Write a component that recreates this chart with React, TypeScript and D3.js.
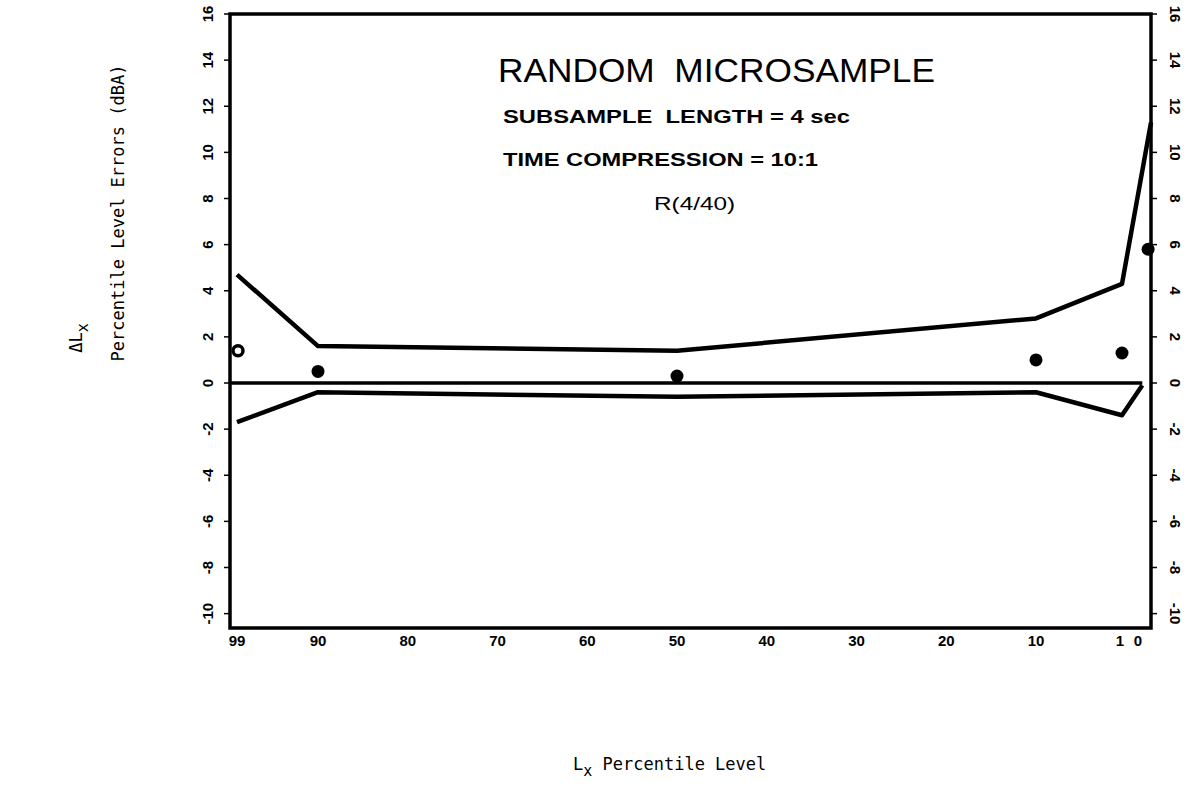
import React from "react";
import * as d3 from "d3";

// percentile levels (x) and error bounds (y, dBA)
const upperX = [99, 90, 50, 10, 1, 0];
const upperY = [4.7, 1.6, 1.4, 2.8, 4.3, 11.3];
const lowerX = [99, 90, 50, 10, 1, 0.3];
const lowerY = [-1.7, -0.4, -0.6, -0.4, -1.4, -0.1];
const pointX = [90, 50, 10, 1, 0.1];
const pointY = [0.5, 0.3, 1.0, 1.3, 5.8];
const ringX = [99];
const ringY = [1.4];
const xTicks = [99, 90, 80, 70, 60, 50, 40, 30, 20, 10, 1, 0];
const yTicks = [16, 14, 12, 10, 8, 6, 4, 2, 0, -2, -4, -6, -8, -10];

const W = 1187;
const H = 811;
const left = 230;
const right = 1151;
const top = 14;
const bottom = 628;

const App = () => {
  // the paper's axis is stretched a little near the 1..0 end
  const x = d3.scaleLinear().domain([99, 90, 10, 1, 0]).range([237, 318, 1036, 1122, right]);
  const y = d3.scaleLinear().domain([16, 0]).range([top, 383]);

  const upperPath = d3.line<number>()
    .x(d => x(upperX[d]))
    .y(d => y(upperY[d]))(d3.range(upperX.length));
  const lowerPath = d3.line<number>()
    .x(d => x(lowerX[d]))
    .y(d => y(lowerY[d]))(d3.range(lowerX.length));

  const tickFont = "'Liberation Sans', Arial, sans-serif";
  const mono = "'DejaVu Sans Mono', monospace";

  // small nudges for the crowded labels at the right end
  const xLabelShift = (t: number) => (t === 1 ? -2 : t === 0 ? -13 : 0);

  return (
    <svg
      width={W}
      height={H}
      style={{ position: "absolute", left: 0, top: 0, background: "#fff" }}
    >
      {/* frame */}
      <rect
        x={left}
        y={top}
        width={right - left}
        height={bottom - top}
        fill="none"
        stroke="#000"
        strokeWidth={3.5}
      />

      {/* left axis ticks + labels */}
      {yTicks.map(t => (
        <g key={"l" + t} transform={`translate(${left},${y(t)})`}>
          <line x1={-6} x2={0} stroke="#000" strokeWidth={1.5} />
          <text
            transform="translate(-23,0) rotate(-90)"
            textAnchor="middle"
            dominantBaseline="central"
            fontFamily={tickFont}
            fontWeight="bold"
            fontSize={15}
          >
            {t}
          </text>
        </g>
      ))}

      {/* right axis ticks + labels */}
      {yTicks.map(t => (
        <g key={"r" + t} transform={`translate(${right},${y(t)})`}>
          <line x1={0} x2={6} stroke="#000" strokeWidth={1.5} />
          <text
            transform="translate(24,0) rotate(90)"
            textAnchor="middle"
            dominantBaseline="central"
            fontFamily={tickFont}
            fontWeight="bold"
            fontSize={15}
          >
            {t}
          </text>
        </g>
      ))}

      {/* bottom labels */}
      {xTicks.map(t => (
        <text
          key={"x" + t}
          x={x(t) + xLabelShift(t)}
          y={646}
          textAnchor="middle"
          fontFamily={tickFont}
          fontWeight="bold"
          fontSize={15}
        >
          {t}
        </text>
      ))}

      {/* zero line */}
      <line x1={left} x2={x(0.3)} y1={y(0)} y2={y(0)} stroke="#000" strokeWidth={3.5} />

      {/* error bounds */}
      <path d={upperPath || ""} fill="none" stroke="#000" strokeWidth={4.5} strokeLinejoin="round" />
      <path d={lowerPath || ""} fill="none" stroke="#000" strokeWidth={4.5} strokeLinejoin="round" />

      {/* measured points */}
      {pointX.map((p, i) => (
        <circle key={"p" + i} cx={x(p)} cy={y(pointY[i])} r={6.5} fill="#000" />
      ))}
      {ringX.map((p, i) => (
        <circle
          key={"o" + i}
          cx={x(p) + 1}
          cy={y(ringY[i])}
          r={5}
          fill="#fff"
          stroke="#000"
          strokeWidth={3.5}
        />
      ))}

      {/* titles */}
      <text
        x={498}
        y={82}
        fontFamily={tickFont}
        fontSize={34}
        textLength={437}
        lengthAdjust="spacingAndGlyphs"
        xmlSpace="preserve"
      >
        RANDOM  MICROSAMPLE
      </text>
      <text
        x={503}
        y={123}
        fontFamily={tickFont}
        fontWeight="bold"
        fontSize={19}
        textLength={347}
        lengthAdjust="spacingAndGlyphs"
        xmlSpace="preserve"
      >
        SUBSAMPLE  LENGTH = 4 sec
      </text>
      <text
        x={503}
        y={166}
        fontFamily={tickFont}
        fontWeight="bold"
        fontSize={19}
        textLength={315}
        lengthAdjust="spacingAndGlyphs"
      >
        TIME COMPRESSION = 10:1
      </text>
      <text x={654} y={210} fontFamily={tickFont} fontSize={18} textLength={81} lengthAdjust="spacingAndGlyphs">
        R(4/40)
      </text>

      {/* axis titles */}
      <text
        transform="translate(82,338) rotate(-90)"
        textAnchor="middle"
        fontFamily={mono}
        fontSize={17}
      >
        ΔL<tspan dy={6} fontSize={15}>x</tspan>
      </text>
      <text
        transform="translate(124,213) rotate(-90)"
        textAnchor="middle"
        fontFamily={mono}
        fontSize={17}
      >
        Percentile Level Errors (dBA)
      </text>
      <text x={573} y={770} fontFamily={mono} fontSize={17}>
        L<tspan dy={6} fontSize={15}>x</tspan>
        <tspan dy={-6}> Percentile Level</tspan>
      </text>
    </svg>
  );
};

export default App;
